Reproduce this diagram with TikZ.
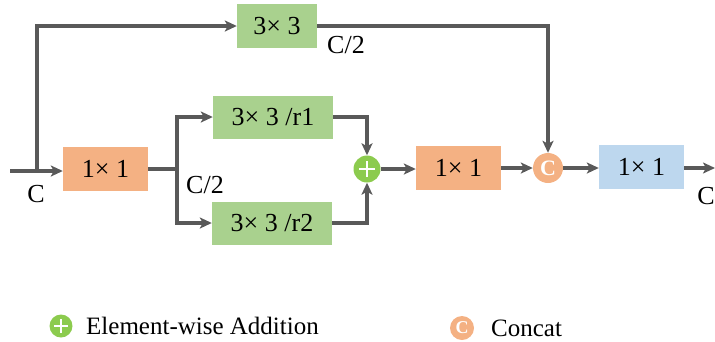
\documentclass[tikz,border=0pt]{standalone}
\usepackage{fontspec}
\setmainfont{Liberation Serif}
\usetikzlibrary{arrows.meta}
\definecolor{lgreen}{HTML}{A9D18E}
\definecolor{lorange}{HTML}{F4B183}
\definecolor{lblue}{HTML}{BDD7EE}
\definecolor{pgreen}{HTML}{8CCB4E}
\definecolor{lgray}{HTML}{595959}
\tikzset{
  box/.style={inner sep=0pt, minimum height=44pt, font=\fontsize{26}{30}\selectfont},
  gbox/.style={box, fill=lgreen},
  obox/.style={box, fill=lorange, minimum width=85pt},
  bbox/.style={box, fill=lblue, minimum width=85pt},
  conn/.style={draw=lgray, line width=3.3pt, -{Stealth[length=12pt,width=11pt,inset=3pt]}},
  line/.style={draw=lgray, line width=3.3pt},
  lbl/.style={font=\fontsize{26}{30}\selectfont, inner sep=0pt},
  plusc/.style={circle, fill=pgreen, inner sep=0pt, minimum size=#1,
    path picture={\draw[white, line width=2.2pt]
      ([xshift=-0.3*#1]path picture bounding box.center) -- ([xshift=0.3*#1]path picture bounding box.center)
      ([yshift=-0.3*#1]path picture bounding box.center) -- ([yshift=0.3*#1]path picture bounding box.center);}},
  catc/.style={circle, fill=lorange, inner sep=0pt, minimum size=#1, text=white, font=\fontsize{22}{24}\selectfont\bfseries},
}
\begin{document}
\begin{tikzpicture}[x=1pt,y=-1pt]
\useasboundingbox (0,0) rectangle (715,341);
% nodes
\node[gbox, minimum width=80pt] (top) at (277,26) {3\texttimes\ 3};
\node[obox] (c1) at (105.5,169) {1\texttimes\ 1};
\node[gbox, minimum width=120pt, minimum height=43pt] (r1) at (273,117) {3\texttimes\ 3 /r1};
\node[gbox, minimum width=120pt, minimum height=43pt] (r2) at (272,223) {3\texttimes\ 3 /r2};
\node[plusc=27pt] (add) at (367,169) {};
\node[obox] (c2) at (458.5,168) {1\texttimes\ 1};
\node[catc=30pt] (cat) at (548,168) {C};
\node[bbox] (c3) at (641.5,167) {1\texttimes\ 1};
\coordinate (in) at (10,171);
\coordinate (split) at (37,171);
\coordinate (fork) at (177,169);
\coordinate (out) at (715,168);
% labels
\node[lbl] (lc) at (36,194) {C};
\node[lbl] (lc2a) at (205,185) {C/2};
\node[lbl] (lc2b) at (346,45) {C/2};
\node[lbl] (lcout) at (706,196) {C};
% connectors
\draw[conn] (in) -- (c1.west |- in);
\draw[conn] (split) -- (split |- top.west) -- (top.west);
\draw[conn] (top.east) -- (cat |- top.east) -- (cat.north);
\draw[line] (c1.east) -- (fork);
\draw[conn] (fork) |- (r1.west);
\draw[conn] (fork) |- (r2.west);
\draw[conn] (r1.east) -| (add.north);
\draw[conn] (r2.east) -| (add.south);
\draw[conn] (add.east) -- (c2.west |- add.east);
\draw[conn] (c2.east) -- (cat.west);
\draw[conn] (cat.east) -- (c3.west |- cat.east);
\draw[conn] (c3.east |- out) -- (out);
% legend
\node[plusc=23pt] (legadd) at (61,326) {};
\node[lbl, anchor=west, font=\fontsize{25}{28}\selectfont] (legaddt) at (86,326) {Element-wise Addition};
\node[catc=24pt, font=\fontsize{18}{20}\selectfont\bfseries] (legcat) at (462,328) {C};
\node[lbl, anchor=west, font=\fontsize{25}{28}\selectfont] (legcatt) at (491,328) {Concat};
\end{tikzpicture}
\end{document}
